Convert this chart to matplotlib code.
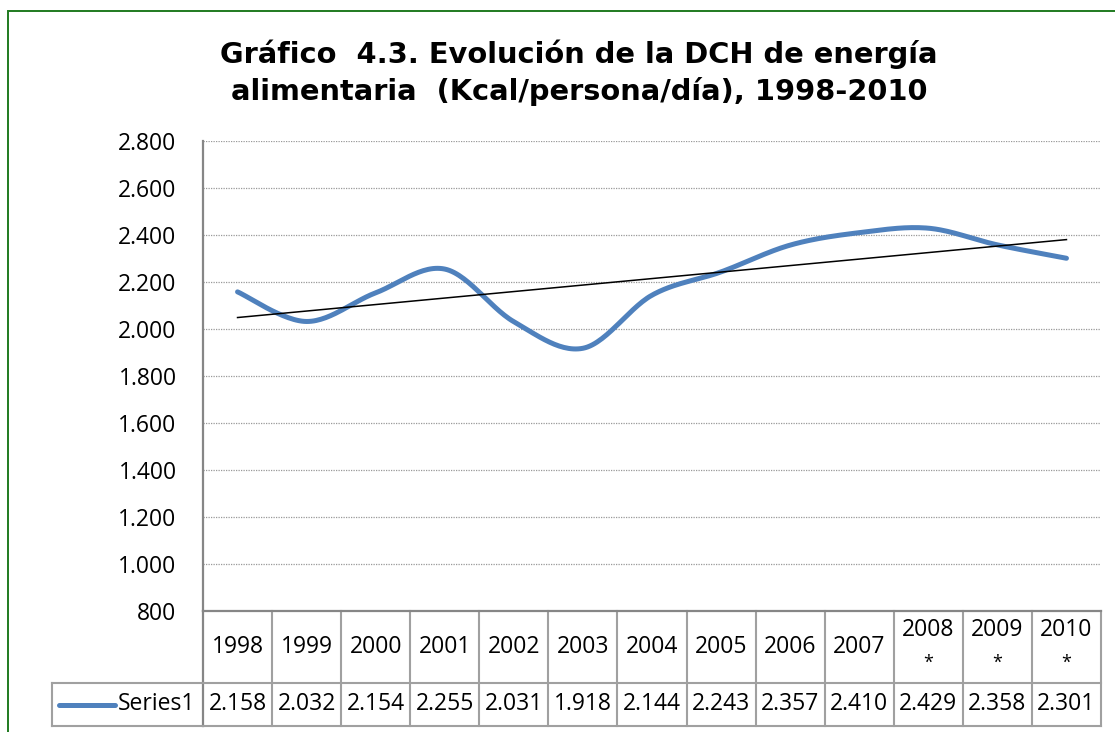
import numpy as np
import matplotlib
matplotlib.use("Agg")
import matplotlib.pyplot as plt
from matplotlib.patches import Rectangle
from matplotlib.lines import Line2D

# Data
years = ['1998', '1999', '2000', '2001', '2002', '2003', '2004', '2005',
         '2006', '2007', '2008\n*', '2009\n*', '2010\n*']
values = [2158, 2032, 2154, 2255, 2031, 1918, 2144, 2243, 2357, 2410, 2429, 2358, 2301]
series_name = 'Series1'
yticks = [800, 1000, 1200, 1400, 1600, 1800, 2000, 2200, 2400, 2600, 2800]

W, H = 1115, 732
blue = '#4F81BD'
grey = '#A0A0A0'
tfont = 'Open Sans'


def fmt(v):
    return f'{v:,}'.replace(',', '.')


def smooth(xs, ys, n=30):
    # Excel-like smoothed line (Catmull-Rom bezier segments)
    px = np.concatenate([[xs[0]], xs, [xs[-1]]])
    py = np.concatenate([[ys[0]], ys, [ys[-1]]])
    ox, oy = [], []
    t = np.linspace(0, 1, n)
    for i in range(1, len(px) - 2):
        p0 = np.array([px[i], py[i]])
        p3 = np.array([px[i + 1], py[i + 1]])
        c1 = p0 + (p3 - np.array([px[i - 1], py[i - 1]])) / 6
        c2 = p3 - (np.array([px[i + 2], py[i + 2]]) - p0) / 6
        b = ((1 - t) ** 3)[:, None] * p0 + (3 * (1 - t) ** 2 * t)[:, None] * c1 \
            + (3 * (1 - t) * t ** 2)[:, None] * c2 + (t ** 3)[:, None] * p3
        ox.extend(b[:, 0])
        oy.extend(b[:, 1])
    return np.array(ox), np.array(oy)


fig = plt.figure(figsize=(W / 100, H / 100), dpi=100)

# green outer border
fig.patches.append(Rectangle((8 / W, -0.1), 1.2, (H - 11) / H + 0.1, transform=fig.transFigure,
                             fill=False, edgecolor='#1F7A1F', lw=1.4))

left, right, top, bottom = 203, 1101, 141, 611
ax = fig.add_axes([left / W, 1 - bottom / H, (right - left) / W, (bottom - top) / H])

x = np.arange(1, len(values) + 1)
sx, sy = smooth(x.astype(float), np.array(values, dtype=float))
ax.plot(sx, sy, color=blue, lw=3.6, solid_capstyle='round', solid_joinstyle='round', zorder=3)

# linear trendline
k, b = np.polyfit(x, values, 1)
ax.plot([x[0], x[-1]], [k * x[0] + b, k * x[-1] + b], color='black', lw=1.1, zorder=4)

ax.set_xlim(0.5, len(values) + 0.5)
ax.set_ylim(yticks[0], yticks[-1])
ax.set_yticks(yticks)
ax.set_yticklabels([fmt(v) for v in yticks], fontfamily=tfont, fontsize=16.5)
ax.tick_params(axis='y', length=0, pad=19)
ax.set_xticks([])
ax.grid(axis='y', color='#999999', linestyle=(0, (1, 1)), lw=0.9)
for s in ['top', 'right']:
    ax.spines[s].set_visible(False)
ax.spines['left'].set_color('#868686')
ax.spines['left'].set_linewidth(1.6)
ax.spines['bottom'].set_color('#868686')
ax.spines['bottom'].set_linewidth(1.6)

# data table
h1 = (683 - 611) / (bottom - top)
h2 = (726 - 611) / (bottom - top)
trans = ax.get_xaxis_transform()
n = len(values)
lkw = dict(color=grey, lw=1.5, clip_on=False)
ax.plot([0.5, 0.5], [0, -h2], transform=trans, color='#868686', lw=1.6, clip_on=False)
for i in range(1, n + 1):
    ax.plot([i + 0.5, i + 0.5], [0, -h2], transform=trans, **lkw)
ax.plot([0.5, n + 0.5], [-h1, -h1], transform=trans, **lkw)
ax.plot([0.5, n + 0.5], [-h2, -h2], transform=trans, **lkw)
# series label cell
xl = (52 - left) / (right - left)
ax.plot([xl, 0], [-h1, -h1], transform=ax.transAxes, **lkw)
ax.plot([xl, 0], [-h2, -h2], transform=ax.transAxes, **lkw)
ax.plot([xl, xl], [-h1, -h2], transform=ax.transAxes, **lkw)

ymid1 = -h1 / 2
ymid2 = -(h1 + h2) / 2
px2ax = 1 / (bottom - top)
for i, (yr, v) in enumerate(zip(years, values)):
    parts = yr.split('\n')
    if len(parts) == 1:
        ax.text(i + 1, ymid1, yr, transform=trans, ha='center', va='center',
                fontfamily=tfont, fontsize=16.5)
    else:
        ax.text(i + 1, -(630 - bottom) * px2ax, parts[0], transform=trans, ha='center',
                va='center', fontfamily=tfont, fontsize=16.5)
        ax.text(i + 1, -(663 - bottom) * px2ax, parts[1], transform=trans, ha='center',
                va='center', fontfamily=tfont, fontsize=13)
    ax.text(i + 1, ymid2, fmt(v), transform=trans, ha='center', va='center',
            fontfamily=tfont, fontsize=16.5)

# legend key
ax.add_line(Line2D([(59 - left) / (right - left), (115 - left) / (right - left)], [ymid2, ymid2],
                   transform=ax.transAxes, color=blue, lw=3.6, solid_capstyle='round', clip_on=False))
ax.text((195 - left) / (right - left), ymid2, series_name, transform=ax.transAxes,
        ha='right', va='center', fontfamily=tfont, fontsize=16.5)

# title
fig.text(579 / W, 1 - 63 / H, 'Gráfico  4.3. Evolución de la DCH de energía',
         ha='center', va='baseline', fontsize=20.8, fontweight='bold', fontfamily='DejaVu Sans')
fig.text(579 / W, 1 - 100 / H, 'alimentaria  (Kcal/persona/día), 1998-2010',
         ha='center', va='baseline', fontsize=20.8, fontweight='bold', fontfamily='DejaVu Sans')

fig.savefig('out.png', dpi=100)
